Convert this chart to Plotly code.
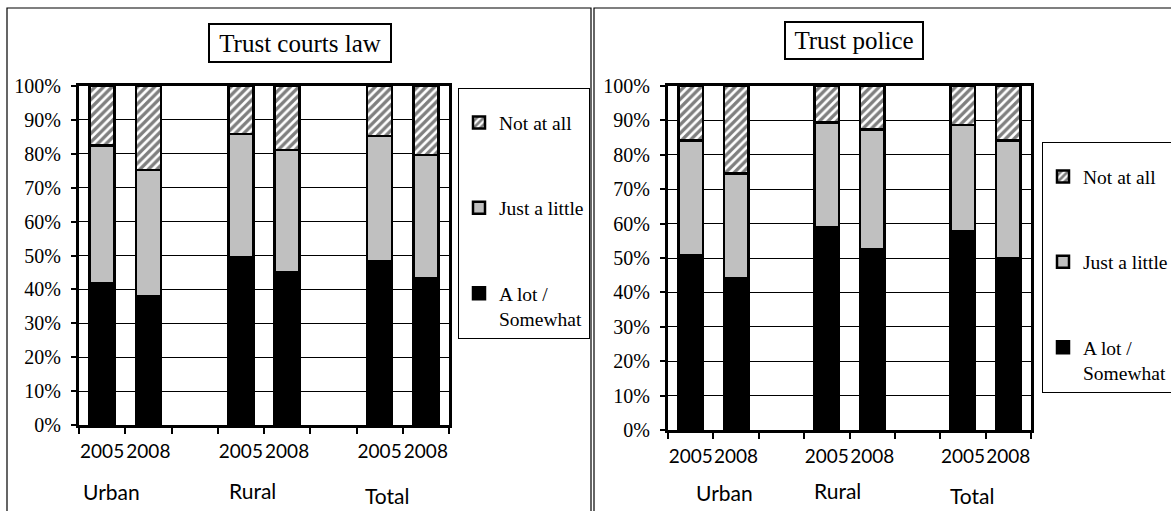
import plotly.graph_objects as go

# ---------------- data ----------------
categories = ["Urban 2005", "Urban 2008", "gap1", "Rural 2005", "Rural 2008", "gap2", "Total 2005", "Total 2008"]
tick_labels = ["2005", "2008", "", "2005", "2008", "", "2005", "2008"]
bar_cats = ["Urban 2005", "Urban 2008", "Rural 2005", "Rural 2008", "Total 2005", "Total 2008"]
groups = ["Urban", "Rural", "Total"]
y_ticks = [0, 10, 20, 30, 40, 50, 60, 70, 80, 90, 100]
y_tick_labels = [f"{v}%" for v in y_ticks]

series_names = ["A lot /<br>Somewhat", "Just a little", "Not at all"]

courts_alot = [41.9, 37.9, 49.4, 45.0, 48.4, 43.2]
courts_little = [40.6, 37.3, 36.4, 36.1, 36.8, 36.4]
courts_not = [17.5, 24.8, 14.2, 18.9, 14.8, 20.4]

police_alot = [50.8, 44.2, 59.0, 52.4, 57.9, 50.0]
police_little = [33.4, 30.4, 30.4, 35.0, 30.7, 34.2]
police_not = [15.8, 25.4, 10.6, 12.6, 11.4, 15.8]

titles = ["Trust courts law", "Trust police"]

# ---------------- layout helpers ----------------
W, H = 1171, 511
def px(x):
    return x / W
def py(y):
    return 1 - y / H

SERIF = "Liberation Serif"
SANS = "Lato"

fig = go.Figure()

def add_chart(alot, little, notat, xa, ya, legend):
    vals = [alot, little, notat]
    for i, (name, v) in enumerate(zip(series_names, vals)):
        if i == 0:
            marker = dict(color="#000000", line=dict(color="#000000", width=2.5))
        elif i == 1:
            marker = dict(color="#C0C0C0", line=dict(color="#000000", width=2.5))
        else:
            marker = dict(color="white", line=dict(color="#000000", width=2.5),
                          pattern=dict(shape="/", fgcolor="#000000", bgcolor="white",
                                       size=6, solidity=0.55))
        fig.add_trace(go.Bar(x=bar_cats, y=v, name=name, marker=marker,
                             xaxis=xa, yaxis=ya, legend=legend,
                             legendgroup=legend + str(i), legendrank=3 - i))

add_chart(courts_alot, courts_little, courts_not, "x", "y", "legend")
add_chart(police_alot, police_little, police_not, "x2", "y2", "legend2")

xaxis_common = dict(type="category", categoryorder="array", categoryarray=categories,
                    tickmode="array", tickvals=categories, ticktext=tick_labels,
                    tickson="boundaries", tickangle=0,
                    ticks="outside", ticklen=6, tickwidth=2, tickcolor="black",
                    showline=True, linewidth=3, linecolor="black", mirror=True,
                    showgrid=False, tickfont=dict(family=SANS, size=19, color="black"),
                    ticklabelstandoff=7, fixedrange=True, automargin=False)
yaxis_common = dict(range=[0, 100], tickmode="array", tickvals=y_ticks, ticktext=y_tick_labels,
                    ticks="outside", ticklen=5, tickwidth=2, tickcolor="black",
                    showline=True, linewidth=3, linecolor="black", mirror=True,
                    showgrid=True, gridcolor="black", gridwidth=1.4,
                    zeroline=False,
                    tickfont=dict(family=SERIF, size=20, color="black"),
                    ticklabelstandoff=6, fixedrange=True, automargin=False)

legend_common = dict(bordercolor="black", borderwidth=1, bgcolor="white",
                     font=dict(family=SERIF, size=19.5, color="black"),
                     traceorder="grouped", tracegroupgap=57, valign="top",
                     xanchor="left", yanchor="top",
                     title=dict(text=" ", font=dict(size=11)))

fig.update_layout(
    width=W, height=H,
    margin=dict(l=0, r=0, t=0, b=0, pad=0, autoexpand=False),
    paper_bgcolor="white", plot_bgcolor="white",
    barmode="stack", bargap=0.46,
    xaxis=dict(domain=[px(79), px(449)], anchor="y", **xaxis_common),
    yaxis=dict(domain=[py(425), py(86)], anchor="x", **yaxis_common),
    xaxis2=dict(domain=[px(668), px(1031)], anchor="y2", **xaxis_common),
    yaxis2=dict(domain=[py(430), py(86)], anchor="x2", **yaxis_common),
    legend=dict(x=px(458), y=py(88), **legend_common),
    legend2=dict(x=px(1042), y=py(142), **legend_common),
    font=dict(family=SERIF, color="black"),
)

# frames around each chart
fig.add_shape(type="rect", xref="paper", yref="paper",
              x0=px(7), x1=px(591), y0=py(520), y1=py(8),
              line=dict(color="black", width=1.2), layer="below")
fig.add_shape(type="rect", xref="paper", yref="paper",
              x0=px(594), x1=px(1180), y0=py(520), y1=py(8),
              line=dict(color="black", width=1.2), layer="below")

# boxed titles
fig.add_annotation(text=titles[0], xref="paper", yref="paper", x=px(300), y=py(43),
                   xanchor="center", yanchor="middle", showarrow=False,
                   width=176, height=32, borderpad=2, bordercolor="black", borderwidth=2,
                   font=dict(family=SERIF, size=25, color="black"))
fig.add_annotation(text=titles[1], xref="paper", yref="paper", x=px(854), y=py(41),
                   xanchor="center", yanchor="middle", showarrow=False,
                   width=132, height=31, borderpad=2, bordercolor="black", borderwidth=2,
                   font=dict(family=SERIF, size=25, color="black"))

# group labels
group_pos_left = [(81, 491), (227, 490), (363, 495)]
group_pos_right = [(694, 492), (812, 490), (948, 495)]
for pos in (group_pos_left, group_pos_right):
    for g, (gx, gy) in zip(groups, pos):
        fig.add_annotation(text=g, xref="paper", yref="paper", x=px(gx), y=py(gy),
                           xanchor="left", yanchor="middle", showarrow=False,
                           font=dict(family=SANS, size=21, color="black"))

post = (
    "document.documentElement.style.margin='0';"
    "document.documentElement.style.overflow='hidden';"
    "document.body.style.margin='0';"
    "document.body.style.overflow='hidden';"
    "var d=document.getElementsByClassName('plotly-graph-div')[0];"
    "d.style.position='fixed';d.style.top='0px';d.style.left='0px';"
)
fig.write_html("out.html", config={"displayModeBar": False}, post_script=post)
